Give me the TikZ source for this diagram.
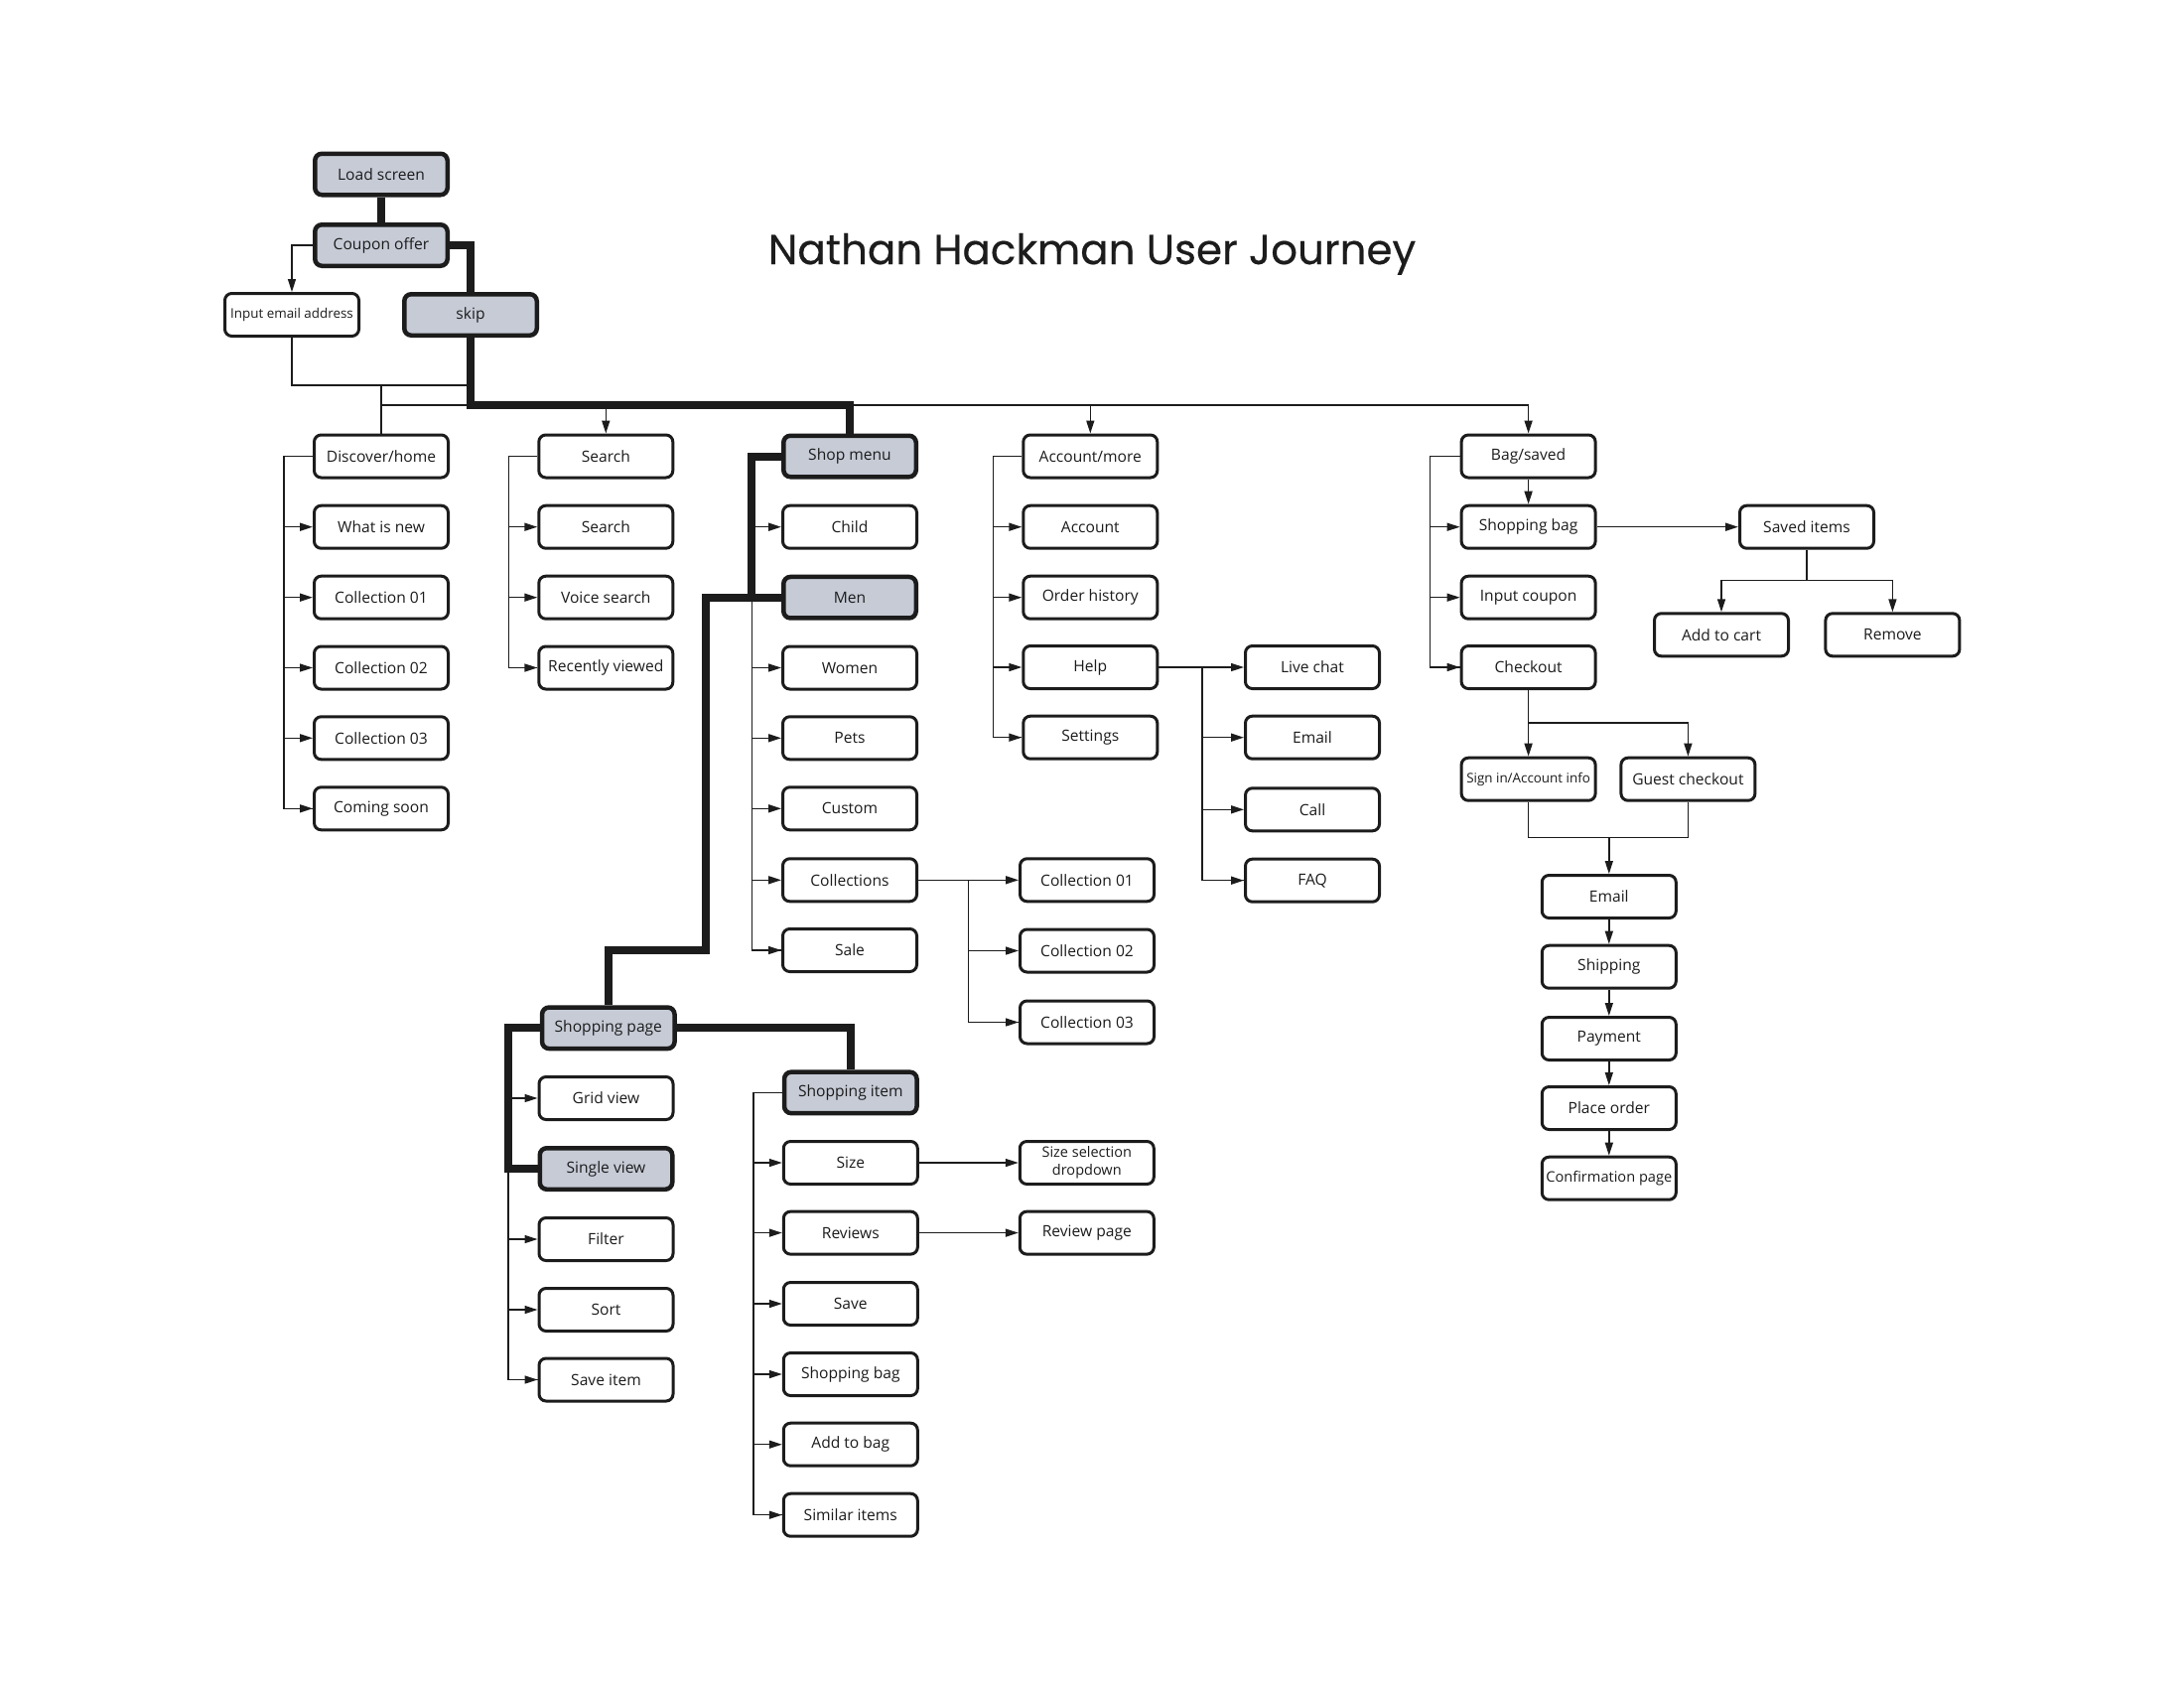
\documentclass[tikz,border=0pt]{standalone}
\usepackage{fontspec}
\setmainfont{Open Sans}
\newfontfamily\titlefont{Poppins}[FakeBold=0.4]
\usetikzlibrary{arrows.meta,calc}
\definecolor{hlgray}{RGB}{198,203,214}
\definecolor{ink}{RGB}{28,28,28}
\begin{document}
\begin{tikzpicture}[x=1pt,y=-1pt,
  box/.style={draw=ink, line width=3pt, rounded corners=7pt, minimum width=135pt, minimum height=43pt, inner sep=0pt, fill=white, align=center, font=\fontsize{15.6}{18}\selectfont, text=ink},
  hl/.style={box, fill=hlgray, line width=4.5pt, minimum width=133.5pt, minimum height=41.5pt},
  smallbox/.style={box, font=\fontsize{13.4}{16}\selectfont},
  widebox/.style={box, font=\fontsize{14.6}{17}\selectfont},
  twoline/.style={box, font=\fontsize{14.5}{18}\selectfont},
  conn/.style={draw=ink, line width=1.5pt},
  arr/.style={conn, -{Triangle[length=13pt,width=8pt]}},
  path/.style={draw=ink, line width=8pt, line join=miter}
]
\useasboundingbox (0,0) rectangle (2200,1700);
\node[anchor=base, font=\titlefont\fontsize{42}{48}\selectfont, text=ink] (title) at (1100,266) {Nathan Hackman User Journey};

% top
\node[hl] (load) at (384,175.5) {Load screen};
\node[hl] (coupon) at (384,247) {Coupon offer};
\node[smallbox] (email0) at (294,317) {Input email address};
\node[hl] (skip) at (474,317) {skip};

% column A
\node[box] (disc) at (384,459.5) {Discover/home};
\node[box] (whatnew) at (384,530.7) {What is new};
\node[box] (ac1) at (384,601.7) {Collection 01};
\node[box] (ac2) at (384,672.5) {Collection 02};
\node[box] (ac3) at (384,743.3) {Collection 03};
\node[box] (soon) at (384,814.3) {Coming soon};

% column B
\node[box] (searchH) at (610.3,459.5) {Search};
\node[box] (search) at (610.3,530.7) {Search};
\node[box] (voice) at (610.3,601.7) {Voice search};
\node[box] (recent) at (610.3,672.5) {Recently viewed};

% column C
\node[hl] (shop) at (856,459.5) {Shop menu};
\node[box] (child) at (856,530.7) {Child};
\node[hl] (men) at (856,601.7) {Men};
\node[box] (women) at (856,672.5) {Women};
\node[box] (pets) at (856,743.3) {Pets};
\node[box] (custom) at (856,814.3) {Custom};
\node[box] (colls) at (856,886.3) {Collections};
\node[box] (sale) at (856,957) {Sale};
\node[box] (sc1) at (1095,886.3) {Collection 01};
\node[box] (sc2) at (1095,957.5) {Collection 02};
\node[box] (sc3) at (1095,1029.5) {Collection 03};

% column D
\node[box] (acct) at (1098.3,459.5) {Account/more};
\node[box] (account) at (1098.3,530.7) {Account};
\node[box] (order) at (1098.3,601.7) {Order history};
\node[box] (help) at (1098.3,672) {Help};
\node[box] (settings) at (1098.3,742.7) {Settings};
\node[box] (live) at (1322,672) {Live chat};
\node[box] (hemail) at (1322,742.7) {Email};
\node[box] (call) at (1322,815.3) {Call};
\node[box] (faq) at (1322,886.7) {FAQ};

% column F
\node[box] (bag) at (1539.6,459.5) {Bag/saved};
\node[box] (sbag) at (1539.6,530.7) {Shopping bag};
\node[box] (coupon2) at (1539.6,601.7) {Input coupon};
\node[box] (checkout) at (1539.6,672) {Checkout};
\node[box] (saved) at (1820,530.7) {Saved items};
\node[box] (addcart) at (1734,639.3) {Add to cart};
\node[box] (remove) at (1906.4,639.3) {Remove};
\node[smallbox] (signin) at (1539.6,784.7) {Sign in/Account info};
\node[box] (guest) at (1700.4,784.7) {Guest checkout};
\node[box] (cemail) at (1620.8,903) {Email};
\node[box] (ship) at (1620.8,973.7) {Shipping};
\node[box] (pay) at (1620.8,1046) {Payment};
\node[box] (place) at (1620.8,1116) {Place order};
\node[widebox] (confirm) at (1620.8,1186.7) {Confirmation page};

% shopping page
\node[hl] (spage) at (612.8,1035.3) {Shopping page};
\node[box] (grid) at (610.5,1106) {Grid view};
\node[hl] (single) at (610.5,1177) {Single view};
\node[box] (filter) at (610.5,1248) {Filter};
\node[box] (sort) at (610.5,1319) {Sort};
\node[box] (saveitem) at (610.5,1389.5) {Save item};

% shopping item
\node[hl] (sitem) at (856.8,1100.4) {Shopping item};
\node[box] (size) at (856.8,1171) {Size};
\node[box] (reviews) at (856.8,1241.6) {Reviews};
\node[box] (save) at (856.8,1313) {Save};
\node[box] (shopbag) at (856.8,1384) {Shopping bag};
\node[box] (addbag) at (856.8,1454.7) {Add to bag};
\node[box] (similar) at (856.8,1525.7) {Similar items};
\node[twoline] (sizesel) at (1094.8,1171) {Size selection\\dropdown};
\node[box] (reviewpg) at (1094.8,1241.6) {Review page};

\coordinate (bus) at (0,408);
\coordinate (j1) at (0,388);

% thin connectors, top
\draw[arr] (coupon.west) -| (email0.north);
\draw[conn] (email0.south) -- (email0.south |- j1) -- (skip.south |- j1);
\draw[conn] (disc.north |- j1) -- (disc.north);
\draw[conn] (disc.north |- bus) -- (bag.north |- bus);
\draw[arr] (searchH.north |- bus) -- (searchH.north);
\draw[arr] (acct.north |- bus) -- (acct.north);
\draw[arr] (bag.north |- bus) -- (bag.north);

% column A
\draw[conn] (disc.west) -- ++(-29,0) coordinate (sA) |- (soon.west);
\foreach \n in {whatnew,ac1,ac2,ac3,soon} \draw[arr] (sA |- \n.west) -- (\n.west);
% column B
\draw[conn] (searchH.west) -- ++(-29,0) coordinate (sB) |- (recent.west);
\foreach \n in {search,voice,recent} \draw[arr] (sB |- \n.west) -- (\n.west);
% column C
\coordinate (sC) at (757.3,459.5);
\draw[conn] (sC) |- (sale.west);
\foreach \n in {child,women,pets,custom,colls,sale} \draw[arr] (sC |- \n.west) -- (\n.west);
\draw[arr] (colls.east) -- (sc1.west);
\coordinate (sK) at (975.5,886.3);
\draw[conn] (sK) |- (sc3.west);
\foreach \n in {sc2,sc3} \draw[arr] (sK |- \n.west) -- (\n.west);
% column D
\draw[conn] (acct.west) -- ++(-29,0) coordinate (sD) |- (settings.west);
\foreach \n in {account,order,help,settings} \draw[arr] (sD |- \n.west) -- (\n.west);
\draw[arr] (help.east) -- (live.west);
\coordinate (sE) at (1211,672);
\draw[conn] (sE) |- (faq.west);
\foreach \n in {hemail,call,faq} \draw[arr] (sE |- \n.west) -- (\n.west);
% column F
\draw[conn] (bag.west) -- ++(-30,0) coordinate (sF) |- (checkout.west);
\foreach \n in {sbag,coupon2,checkout} \draw[arr] (sF |- \n.west) -- (\n.west);
\draw[arr] (bag.south) -- (sbag.north);
\draw[arr] (sbag.east) -- (saved.west);
\draw[conn] (saved.south) -- ++(0,31) coordinate (sv);
\draw[arr] (sv) -| (addcart.north);
\draw[arr] (sv) -| (remove.north);
\draw[conn] (checkout.south) -- ++(0,33) coordinate (ck);
\draw[arr] (ck) -- (signin.north);
\draw[arr] (ck) -| (guest.north);
\draw[conn] (signin.south) -- ++(0,35.6) coordinate (sg) -| (guest.south);
\draw[arr] (sg -| cemail.north) -- (cemail.north);
\draw[arr] (cemail.south) -- (ship.north);
\draw[arr] (ship.south) -- (pay.north);
\draw[arr] (pay.south) -- (place.north);
\draw[arr] (place.south) -- (confirm.north);
% shopping page
\coordinate (sP) at (512,1035.3);
\draw[conn] (sP) |- (saveitem.west);
\foreach \n in {grid,filter,sort,saveitem} \draw[arr] (sP |- \n.west) -- (\n.west);
% shopping item
\draw[conn] (sitem.west) -- ++(-29,0) coordinate (sI) |- (similar.west);
\foreach \n in {size,reviews,save,shopbag,addbag,similar} \draw[arr] (sI |- \n.west) -- (\n.west);
\draw[arr] (size.east) -- (sizesel.west);
\draw[arr] (reviews.east) -- (reviewpg.west);

% highlighted journey
\draw[path] (load.south) -- (coupon.north);
\draw[path] (coupon.east) -| (skip.north);
\draw[path] (skip.south) -- (skip.south |- bus) -| (shop.north);
\draw[path] (shop.west) -- (sC) -- (sC |- men.west) -- (men.west);
\coordinate (k1) at (711,957);
\draw[path] (men.west) -- (k1 |- men.west) -- (k1) -| (spage.north);
\draw[path] (spage.west) -- (sP) -- (sP |- single.west) -- (single.west);
\draw[path] (spage.east) -| (sitem.north);
\end{tikzpicture}
\end{document}
